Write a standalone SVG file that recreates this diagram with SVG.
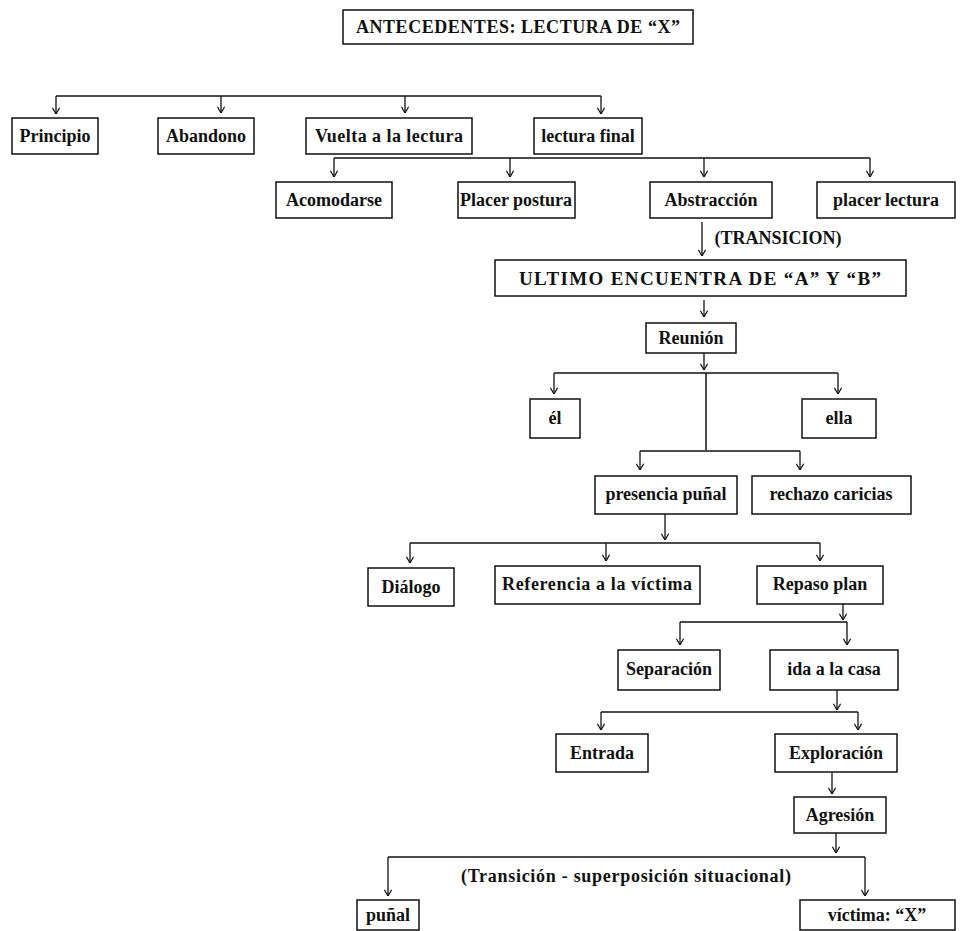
<svg xmlns="http://www.w3.org/2000/svg" width="961" height="931" viewBox="0 0 961 931">
<style>
.b{fill:#fff;stroke:#111;stroke-width:1.5}
.t{font-family:"Liberation Serif","Times New Roman",serif;font-weight:bold;font-size:18px;fill:#111;text-anchor:middle}
.u{font-size:19px}
.c{fill:none;stroke:#111;stroke-width:1.5}
.a{fill:none;stroke:#111;stroke-width:1.3;marker-end:url(#ah)}
</style>
<defs>
<marker id="ah" viewBox="0 0 10 10" refX="10" refY="5" markerWidth="9" markerHeight="9" markerUnits="userSpaceOnUse" orient="auto">
<path d="M3,1 L10,5 L3,9" fill="none" stroke="#111" stroke-width="1.4"/>
</marker>
</defs>
<rect width="961" height="931" fill="#fff"/>
<g id="connectors">
<path class="c" d="M56,96 H601"/>
<path class="a" d="M56,96 V114"/>
<path class="a" d="M221,96 V113"/>
<path class="a" d="M405,96 V113"/>
<path class="a" d="M601,96 V114"/>
<path class="c" d="M334,158 H870"/>
<path class="a" d="M334,158 V177"/>
<path class="a" d="M510,158 V177"/>
<path class="a" d="M704,158 V177"/>
<path class="a" d="M870,158 V177"/>
<path class="a" d="M702,222 V256"/>
<path class="a" d="M704,300 V317"/>
<path class="a" d="M704,353 V370"/>
<path class="c" d="M554,373 H838"/>
<path class="a" d="M554,373 V394"/>
<path class="a" d="M838,373 V394"/>
<path class="c" d="M706,373 V450"/>
<path class="c" d="M640,451 H800"/>
<path class="a" d="M640,451 V470"/>
<path class="a" d="M800,451 V470"/>
<path class="a" d="M665,514 V540"/>
<path class="c" d="M410,543 H820"/>
<path class="a" d="M410,543 V563"/>
<path class="a" d="M606,543 V561"/>
<path class="a" d="M820,543 V561"/>
<path class="a" d="M843,604 V620"/>
<path class="c" d="M680,622 H847"/>
<path class="a" d="M680,622 V645"/>
<path class="a" d="M847,622 V645"/>
<path class="a" d="M837,690 V710"/>
<path class="c" d="M601,712 H858"/>
<path class="a" d="M601,712 V730"/>
<path class="a" d="M858,712 V730"/>
<path class="a" d="M832,773 V794"/>
<path class="a" d="M836,833 V853"/>
<path class="c" d="M388,857 H865"/>
<path class="a" d="M388,857 V896"/>
<path class="a" d="M865,857 V896"/>
</g>
<g id="n_antecedentes"><rect class="b" x="343" y="10" width="350" height="34"/><text class="t" x="518" y="33" textLength="324" lengthAdjust="spacing">ANTECEDENTES: LECTURA DE “X”</text></g>
<g id="n_principio"><rect class="b" x="12" y="118" width="86" height="36"/><text class="t" x="55" y="142">Principio</text></g>
<g id="n_abandono"><rect class="b" x="158" y="118" width="96" height="36"/><text class="t" x="206" y="142">Abandono</text></g>
<g id="n_vuelta"><rect class="b" x="306" y="118" width="166" height="36"/><text class="t" x="389" y="142" textLength="148" lengthAdjust="spacing">Vuelta a la lectura</text></g>
<g id="n_final"><rect class="b" x="534" y="118" width="108" height="36"/><text class="t" x="588" y="142">lectura final</text></g>
<g id="n_acomodarse"><rect class="b" x="276" y="182" width="116" height="36"/><text class="t" x="334" y="206">Acomodarse</text></g>
<g id="n_postura"><rect class="b" x="458" y="182" width="117" height="36"/><text class="t" x="516" y="206">Placer postura</text></g>
<g id="n_abstraccion"><rect class="b" x="650" y="182" width="122" height="36"/><text class="t" x="711" y="206">Abstracción</text></g>
<g id="n_placerlectura"><rect class="b" x="817" y="182" width="138" height="36"/><text class="t" x="886" y="206">placer lectura</text></g>
<g id="l_transicion"><text class="t" x="778" y="244">(TRANSICION)</text></g>
<g id="n_ultimo"><rect class="b" x="495" y="260" width="411" height="36"/><text class="t u" x="700" y="285" textLength="362" lengthAdjust="spacing">ULTIMO ENCUENTRA DE “A” Y “B”</text></g>
<g id="n_reunion"><rect class="b" x="646" y="323" width="90" height="30"/><text class="t" x="691" y="344">Reunión</text></g>
<g id="n_el"><rect class="b" x="530" y="399" width="50" height="39"/><text class="t" x="555" y="424">él</text></g>
<g id="n_ella"><rect class="b" x="802" y="399" width="74" height="39"/><text class="t" x="839" y="424">ella</text></g>
<g id="n_presencia"><rect class="b" x="595" y="476" width="142" height="38"/><text class="t" x="666" y="500">presencia puñal</text></g>
<g id="n_rechazo"><rect class="b" x="752" y="476" width="159" height="38"/><text class="t" x="831" y="500">rechazo caricias</text></g>
<g id="n_dialogo"><rect class="b" x="368" y="568" width="86" height="38"/><text class="t" x="411" y="593">Diálogo</text></g>
<g id="n_referencia"><rect class="b" x="495" y="566" width="205" height="38"/><text class="t" x="597" y="590" textLength="190" lengthAdjust="spacing">Referencia a la víctima</text></g>
<g id="n_repaso"><rect class="b" x="757" y="566" width="126" height="38"/><text class="t" x="820" y="590">Repaso plan</text></g>
<g id="n_separacion"><rect class="b" x="618" y="650" width="102" height="40"/><text class="t" x="669" y="675">Separación</text></g>
<g id="n_ida"><rect class="b" x="770" y="650" width="128" height="40"/><text class="t" x="834" y="675">ida a la casa</text></g>
<g id="n_entrada"><rect class="b" x="556" y="734" width="92" height="38"/><text class="t" x="602" y="759">Entrada</text></g>
<g id="n_exploracion"><rect class="b" x="775" y="734" width="122" height="38"/><text class="t" x="836" y="759">Exploración</text></g>
<g id="n_agresion"><rect class="b" x="794" y="797" width="92" height="36"/><text class="t" x="840" y="821">Agresión</text></g>
<g id="l_superposicion"><text class="t" x="626" y="882" textLength="330" lengthAdjust="spacing">(Transición - superposición situacional)</text></g>
<g id="n_punal"><rect class="b" x="357" y="900" width="62" height="30"/><text class="t" x="388" y="921">puñal</text></g>
<g id="n_victima"><rect class="b" x="800" y="900" width="155" height="30"/><text class="t" x="877" y="921">víctima: “X”</text></g>
</svg>
